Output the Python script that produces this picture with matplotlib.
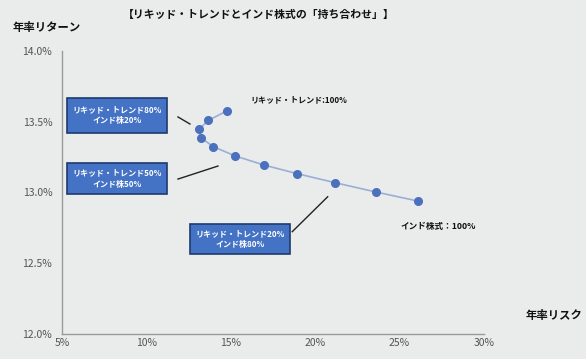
import matplotlib.pyplot as plt
from matplotlib.patches import Rectangle
from matplotlib.ticker import FuncFormatter

plt.rcParams['font.family'] = ['Noto Sans CJK JP', 'DejaVu Sans']

# Portfolio mix: Liquid Trend share 100% -> 0% (India equity 0% -> 100%)
risk = [14.76, 13.67, 13.12, 13.23, 13.96, 15.27, 16.97, 18.94, 21.19, 23.58, 26.07]
ret = [13.576, 13.51, 13.447, 13.387, 13.324, 13.258, 13.194, 13.133, 13.069, 13.004, 12.94]

x_ticks = [5, 10, 15, 20, 25, 30]
y_ticks = [12.0, 12.5, 13.0, 13.5, 14.0]

box_labels = ["リキッド・トレンド80%\nインド株20%",
              "リキッド・トレンド50%\nインド株50%",
              "リキッド・トレンド20%\nインド株80%"]

bg = '#eaebeb'
fig = plt.figure(figsize=(5.86, 3.59), dpi=100, facecolor=bg)
ax = fig.add_axes([62 / 586, 1 - 334 / 359, 422 / 586, 283 / 359])
ax.set_facecolor(bg)

ax.plot(risk, ret, color='#9aafd6', lw=1.2, zorder=2)
ax.plot(risk, ret, 'o', color='#4a70be', ms=5.5, zorder=3)

ax.set_xlim(5, 30)
ax.set_ylim(12, 14)
ax.set_xticks(x_ticks)
ax.set_yticks(y_ticks)
ax.xaxis.set_major_formatter(FuncFormatter(lambda v, p: f"{v:.0f}%"))
ax.yaxis.set_major_formatter(FuncFormatter(lambda v, p: f"{v:.1f}%"))
ax.tick_params(length=0, labelsize=7.5, colors='#555555')
ax.tick_params(axis='x', pad=3)
ax.tick_params(axis='y', pad=7)
for s in ['top', 'right']:
    ax.spines[s].set_visible(False)
for s in ['left', 'bottom']:
    ax.spines[s].set_color('#9a9a9a')
    ax.spines[s].set_linewidth(1.0)

# callout boxes (x0, y0, width, height in data units)
boxes = [(5.30, 13.42, 5.92, 0.25),
         (5.30, 12.99, 5.92, 0.218),
         (12.58, 12.565, 5.92, 0.212)]
leaders = [((11.87, 12.58), (13.534, 13.484)),
           ((11.87, 14.24), (13.095, 13.187)),
           ((18.64, 20.74), (12.723, 12.97))]
for (x0, y0, w, h), txt, (lx, ly) in zip(boxes, box_labels, leaders):
    ax.add_patch(Rectangle((x0, y0), w, h, facecolor='#4472c4',
                           edgecolor='#1f3a6e', lw=1.2, zorder=4, clip_on=False))
    ax.text(x0 + w / 2, y0 + h / 2, txt, ha='center', va='center', color='white',
            fontsize=5.8, fontweight='bold', linespacing=1.3, zorder=5)
    ax.plot(lx, ly, color='#222222', lw=1.0, zorder=2)

ax.text(16.14, 13.654, "リキッド・トレンド:100%", fontsize=5.8, fontweight='bold',
        va='center', ha='left', color='#111111')
ax.text(25.02, 12.763, "インド株式：100%", fontsize=6.2, fontweight='bold',
        va='center', ha='left', color='#111111')

fig.text(259 / 586, 1 - 15 / 359, "【リキッド・トレンドとインド株式の「持ち合わせ」】",
         ha='center', va='center', fontsize=7.8, fontweight='bold', color='#111111')
fig.text(13 / 586, 1 - 28 / 359, "年率リターン", ha='left', va='center',
         fontsize=8.2, fontweight='bold', color='#111111')
fig.text(526 / 586, 1 - 316 / 359, "年率リスク", ha='left', va='center',
         fontsize=8.2, fontweight='bold', color='#111111')

fig.savefig('out.png', dpi=100, facecolor=bg)
